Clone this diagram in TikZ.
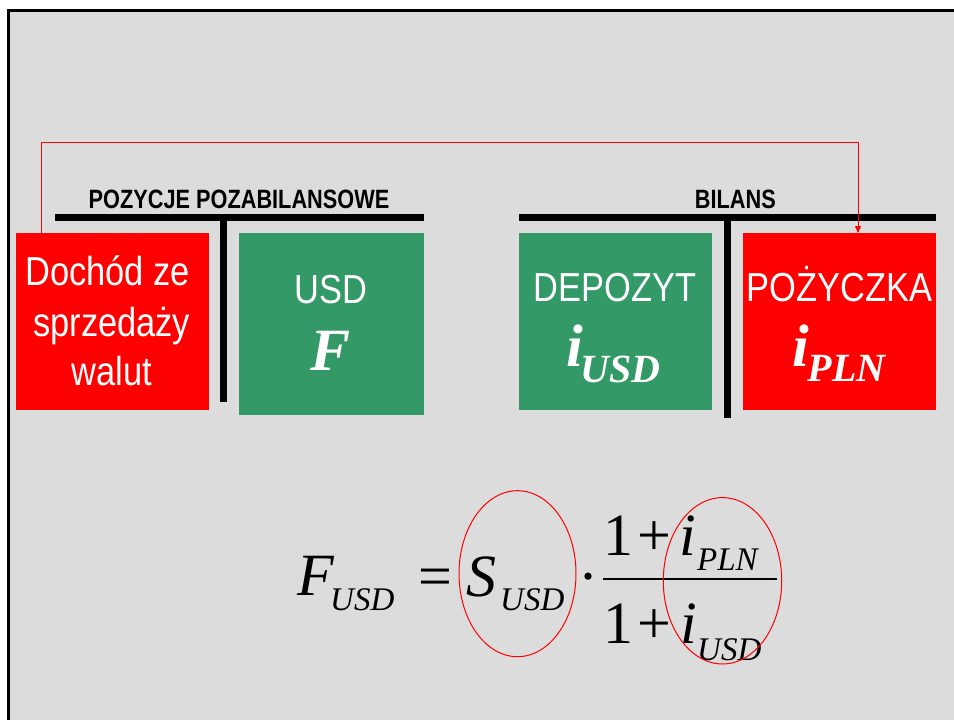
\documentclass[tikz,border=0pt]{standalone}
\usepackage{fontspec}
\setmainfont{Liberation Serif}
\newfontfamily\headfont[FakeStretch=0.82]{Liberation Sans}
\newfontfamily\boxfont[FakeStretch=0.85]{Liberation Sans}
\usetikzlibrary{arrows.meta}
\definecolor{slidegray}{HTML}{DCDCDC}
\definecolor{boxgreen}{RGB}{51,153,102}
\definecolor{boxred}{RGB}{255,0,0}

\tikzset{
  panel/.style={anchor=north west, inner sep=0pt, outer sep=0pt, draw=none},
  redpanel/.style={panel, fill=boxred},
  greenpanel/.style={panel, fill=boxgreen},
  boxtext/.style={text=white, inner sep=0pt, anchor=base,
    font=\boxfont\fontsize{40.5}{40.5}\selectfont},
  boxsym/.style={text=white, inner sep=0pt, anchor=base west,
    font=\bfseries\itshape\fontsize{60}{60}\selectfont},
  head/.style={inner sep=0pt, anchor=base,
    font=\headfont\bfseries\fontsize{26.5}{26.5}\selectfont},
  conn/.style={draw=boxred, line width=1pt, -{Triangle[length=7pt,width=6pt]}},
  ring/.style={draw=boxred, line width=1pt},
  eq/.style={inner sep=0pt, anchor=base, font=\fontsize{60}{60}\selectfont},
  eqvar/.style={inner sep=0pt, anchor=base west, font=\itshape\fontsize{60}{60}\selectfont},
  eqsub/.style={inner sep=0pt, anchor=base west, font=\itshape\fontsize{33}{33}\selectfont},
}

\begin{document}
\begin{tikzpicture}[x=1pt, y=-1pt]
  \useasboundingbox (0,0) rectangle (954,720);
  \fill[white] (0,0) rectangle (954,720);
  % slide frame, open to the right and bottom
  \begin{scope}
    \clip (0,0) rectangle (954,720);
    \draw[line width=3pt, fill=slidegray] (8.7,10.7) rectangle (980,740);
  \end{scope}

  % account panels
  \node[redpanel,   minimum width=193pt, minimum height=177pt] (sale) at (16,233) {};
  \node[greenpanel, minimum width=185pt, minimum height=182pt] (fwd)  at (239,233) {};
  \node[greenpanel, minimum width=193pt, minimum height=177pt] (dep)  at (519,233) {};
  \node[redpanel,   minimum width=193pt, minimum height=177pt] (loan) at (743,233) {};

  % T-account bars
  \fill (55,214) rectangle (424,221);
  \fill (220,217) rectangle (227,402);
  \fill (519,214) rectangle (936,221);
  \fill (724,217) rectangle (731,418);

  % headings
  \node[head] (offbal) at (239,208.3) {POZYCJE POZABILANSOWE};
  \node[head] (bal) at (735.3,208.3) {BILANS};

  % panel texts
  \node[boxtext] (sale1) at (107.5,285) {Dochód ze};
  \node[boxtext] (sale2) at (111.7,336) {sprzedaży};
  \node[boxtext] (sale3) at (111.7,385.7) {walut};

  \node[boxtext] (fwd1) at (331,303.3) {USD};
  \node[boxsym, anchor=base] (fwd2) at (331,370) {F};

  \node[boxtext] (dep1) at (615,301.7) {DEPOZYT};
  \node[boxsym] (dep2) at (566,366.7)
    {i\kern-2pt\raisebox{-15.3pt}{\fontsize{40}{40}\selectfont USD}};

  \node[boxtext] (loan1) at (839.5,301.7) {POŻYCZKA};
  \node[boxsym] (loan2) at (792,366.7)
    {i\kern-1pt\raisebox{-15pt}{\fontsize{40}{40}\selectfont PLN}};

  % connector from the sale panel to the loan panel
  \path (sale.north west) ++(25,0) coordinate (src);
  \path (loan.north west) ++(115,0) coordinate (dst);
  \draw[conn] (src) -- ++(0,-91) -| (dst);

  % forward rate formula
  \node[eqvar] (fF)  at (297,595) {F};
  \node[eqsub] (fFs) at (330,610.7) {USD};
  \node[eq]    (feq) at (435,596) {=};
  \node[eqvar] (fS)  at (466,596.7) {S};
  \node[eqsub] (fSs) at (500,610.7) {USD};
  \node[eq]    (fdot) at (588,596) {·};
  \draw[line width=2pt] (603.3,579) -- (777.3,579);
  \node[eq]    (n1)    at (618,555) {1};
  \node[eq]    (nplus) at (654,555) {+};
  \node[eqvar] (ni)    at (679,555) {i};
  \node[eqsub] (nis)   at (697,570.7) {PLN};
  \node[eq]    (d1)    at (618,643.3) {1};
  \node[eq]    (dplus) at (654,643.3) {+};
  \node[eqvar] (di)    at (680,643.3) {i};
  \node[eqsub] (dis)   at (697,660) {USD};

  % highlight rings
  \draw[ring] (517.5,573.7) ellipse [x radius=58.5, y radius=83];
  \draw[ring] (722.5,580.8) ellipse [x radius=59.2, y radius=83.2];
\end{tikzpicture}
\end{document}
